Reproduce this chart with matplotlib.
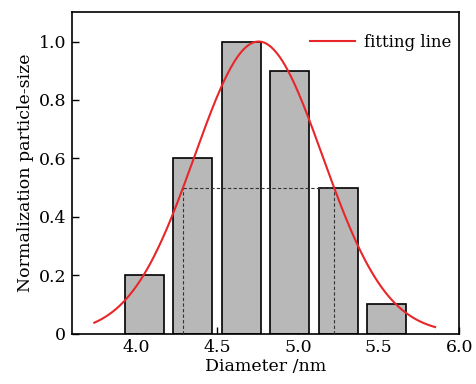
import numpy as np
import matplotlib.pyplot as plt

# bar data (normalised particle-size distribution)
diameters = [4.05, 4.35, 4.65, 4.95, 5.25, 5.55]
counts = [0.2, 0.6, 1.0, 0.9, 0.5, 0.1]
bar_width = 0.24

# gaussian fit parameters
fit_center = 4.757
fit_sigma = 0.397
fit_amp = 1.0
fit_range = (3.74, 5.85)

# half-maximum markers
half_max = 0.5
half_left = 4.29
half_right = 5.225

xticks = [4.0, 4.5, 5.0, 5.5, 6.0]
yticks = [0, 0.2, 0.4, 0.6, 0.8, 1.0]
ytick_labels = ['0', '0.2', '0.4', '0.6', '0.8', '1.0']

plt.rcParams['font.family'] = ['DejaVu Serif']

fig = plt.figure(figsize=(4.76, 3.84), dpi=100)
ax = fig.add_axes([0.1506, 0.131, 0.8144, 0.837])

ax.bar(diameters, counts, width=bar_width, color='#b8b8b9',
       edgecolor='black', linewidth=1.2, zorder=2)

# dashed FWHM guide lines
guide = dict(color='#333333', lw=0.8, dashes=(3, 2), zorder=3)
ax.plot([half_left, half_right], [half_max, half_max], **guide)
ax.plot([half_left, half_left], [0, half_max], **guide)
ax.plot([half_right, half_right], [0, half_max], **guide)

x = np.linspace(fit_range[0], fit_range[1], 300)
y = fit_amp * np.exp(-(x - fit_center) ** 2 / (2 * fit_sigma ** 2))
ax.plot(x, y, color='#e8262a', lw=1.5, label='fitting line', zorder=4)

ax.set_xlim(3.6, 6.0)
ax.set_ylim(0, 1.1)
ax.set_xticks(xticks)
ax.set_xticklabels(['%.1f' % t for t in xticks])
ax.set_yticks(yticks)
ax.set_yticklabels(ytick_labels)
ax.tick_params(direction='in', length=5, width=1, labelsize=12.5, pad=4)
for s in ax.spines.values():
    s.set_linewidth(1.2)

ax.set_xlabel('Diameter /nm', fontsize=12.5, labelpad=1)
ax.set_ylabel('Normalization particle-size', fontsize=12.5, labelpad=3)

ax.legend(loc='center right', bbox_to_anchor=(1.0, 0.907), frameon=False,
          fontsize=12, handlelength=2.7, handletextpad=0.55, borderaxespad=0.05)

fig.savefig('out.png', dpi=100)
